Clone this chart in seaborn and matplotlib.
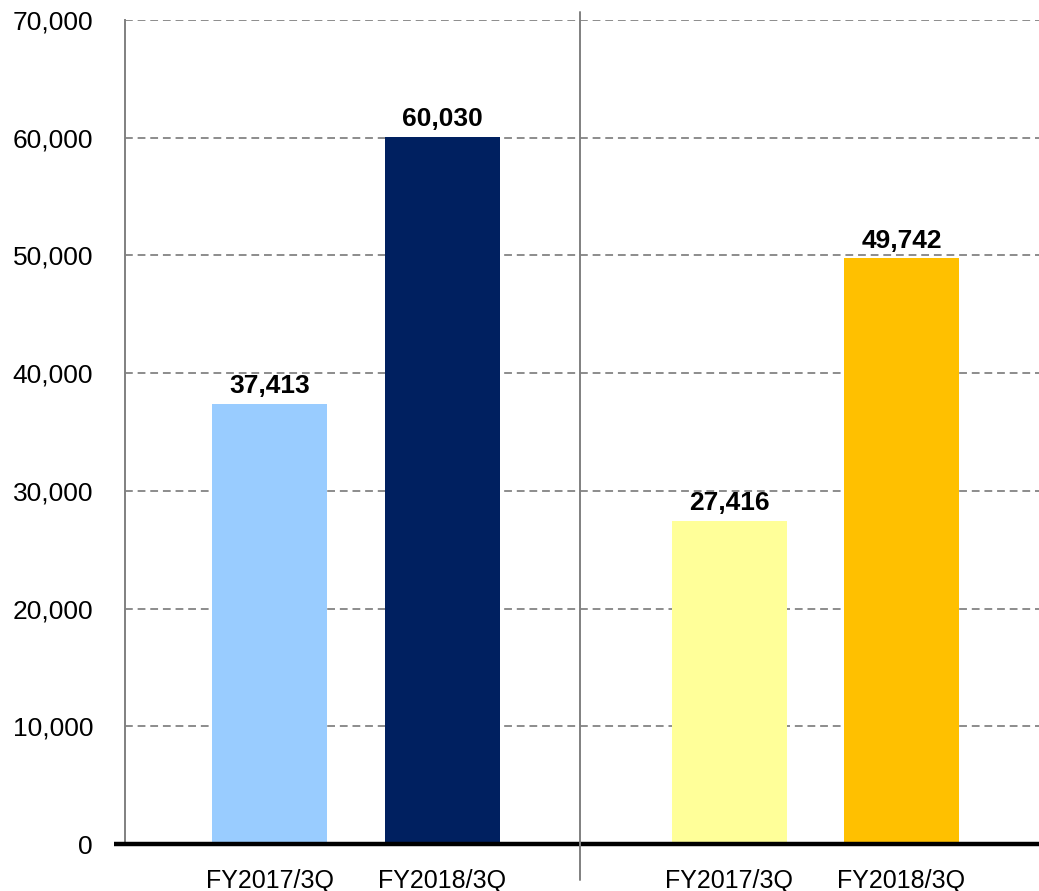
import numpy as np
import pandas as pd
import matplotlib.pyplot as plt
import seaborn as sns

# chart data
positions = [0.0, 1.0, 2.664, 3.664]
tick_labels = ['FY2017/3Q', 'FY2018/3Q', 'FY2017/3Q', 'FY2018/3Q']
keys = ['a17', 'a18', 'b17', 'b18']
values = [37413, 60030, 27416, 49742]
colors = ['#99CCFF', '#002060', '#FFFF99', '#FFC000']

sns.set_style('white')
plt.rcParams['font.family'] = ['Liberation Sans', 'DejaVu Sans']
plt.rcParams['text.color'] = 'black'
plt.rcParams['xtick.color'] = 'black'
plt.rcParams['ytick.color'] = 'black'

df = pd.DataFrame({'pos': positions, 'key': keys, 'value': values})

fig = plt.figure(figsize=(10.39, 8.91), dpi=100)
ax = fig.add_axes([125 / 1039, 47 / 891, 914 / 1039, 824 / 891])

sns.barplot(data=df, x='pos', y='value', hue='key', palette=dict(zip(keys, colors)),
            native_scale=True, dodge=False, width=0.667, legend=False, ax=ax,
            linewidth=0, saturation=1)

ax.set_ylim(0, 70000)
ax.set_xlim(-0.838, 4.461)
ax.set_yticks(np.arange(0, 70001, 10000))
ax.set_yticklabels([f'{v:,}' for v in range(0, 70001, 10000)], fontsize=19)
ax.set_xticks(positions)
ax.set_xticklabels(tick_labels, fontsize=18,
                   family=['Liberation Sans Narrow', 'Liberation Sans', 'DejaVu Sans'])
ax.tick_params(axis='y', length=6, width=1.2, color='#808080', labelcolor='black', pad=17)
ax.tick_params(axis='x', length=0, pad=18, labelcolor='black')
ax.set_xlabel('')
ax.set_ylabel('')

ax.yaxis.grid(True, color='#8c8c8c', linestyle=(0, (4, 2.5)), linewidth=1.4)
ax.set_axisbelow(True)
for s in ['top', 'right', 'bottom']:
    ax.spines[s].set_visible(False)
ax.spines['left'].set_color('#808080')
ax.spines['left'].set_linewidth(1.4)

# thick baseline
ax.plot([-0.012, 1.0], [0, 0], transform=ax.get_yaxis_transform(), color='black',
        linewidth=3.2, clip_on=False, solid_capstyle='butt', zorder=5)

# group divider
ax.plot([1.8, 1.8], [1.0097, -0.0437], transform=ax.get_xaxis_transform(), color='#808080',
        linewidth=1.4, clip_on=False, zorder=5)

for x, v in zip(positions, values):
    ax.text(x, v + 500, f'{v:,}', ha='center', va='bottom', fontsize=19,
            fontweight='bold', color='black')

fig.savefig('out.png', dpi=100)
